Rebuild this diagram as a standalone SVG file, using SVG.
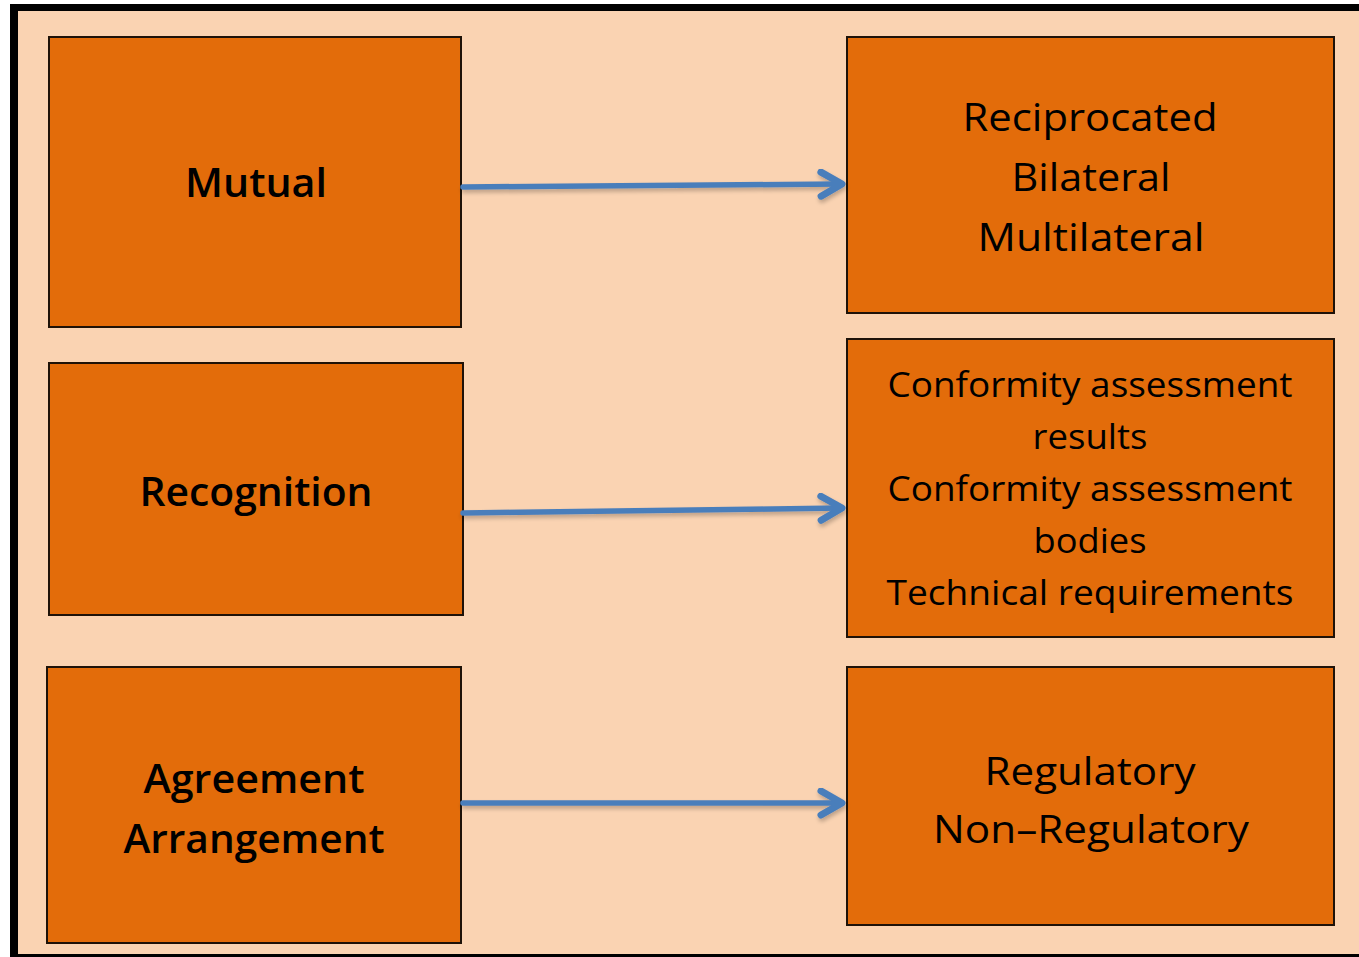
<svg xmlns="http://www.w3.org/2000/svg" width="1359" height="957" viewBox="0 0 1359 957">
  <style>
    .box { fill: #E36C0A; stroke: #1e1208; stroke-width: 2; }
    .lbl { font-family: "Open Sans", "Noto Sans", "DejaVu Sans", sans-serif; fill: #000; text-anchor: middle; }
    .big { font-size: 40px; font-weight: 600; }
    .mid { font-size: 39px; }
    .sm { font-size: 34px; }
    .conn { fill: none; stroke: #4A7EBB; stroke-width: 5.5; stroke-linecap: round; }
  </style>
  <defs>
    <marker id="arrow" markerUnits="userSpaceOnUse" markerWidth="40" markerHeight="40" refX="25" refY="15" orient="auto">
      <path d="M4,3 L25,15 L4,27" fill="none" stroke="#4A7EBB" stroke-width="7" stroke-linecap="round" stroke-linejoin="round"/>
    </marker>
    <filter id="shadow" x="-5%" y="-50%" width="110%" height="300%">
      <feGaussianBlur in="SourceAlpha" stdDeviation="2"/>
      <feOffset dx="1" dy="3" result="b"/>
      <feComponentTransfer><feFuncA type="linear" slope="0.25"/></feComponentTransfer>
      <feMerge><feMergeNode/><feMergeNode in="SourceGraphic"/></feMerge>
    </filter>
  </defs>
  <rect x="0" y="0" width="1359" height="957" fill="#ffffff"/>
  <rect x="10" y="4" width="1349" height="953" fill="#000000"/>
  <rect x="18" y="11" width="1341" height="943" fill="#FAD3B2"/>

  <g id="node-mutual">
    <rect class="box" x="49" y="37" width="412" height="290"/>
    <text class="lbl big" x="256" y="197" textLength="142" lengthAdjust="spacingAndGlyphs">Mutual</text>
  </g>
  <g id="node-recognition">
    <rect class="box" x="49" y="363" width="414" height="252"/>
    <text class="lbl big" x="256" y="506" textLength="233" lengthAdjust="spacingAndGlyphs">Recognition</text>
  </g>
  <g id="node-agreement">
    <rect class="box" x="47" y="667" width="414" height="276"/>
    <text class="lbl big" x="254" y="793" textLength="221" lengthAdjust="spacingAndGlyphs">Agreement</text>
    <text class="lbl big" x="254" y="853" textLength="261" lengthAdjust="spacingAndGlyphs">Arrangement</text>
  </g>
  <g id="node-types">
    <rect class="box" x="847" y="37" width="487" height="276"/>
    <text class="lbl mid" x="1090" y="131" textLength="255" lengthAdjust="spacingAndGlyphs">Reciprocated</text>
    <text class="lbl mid" x="1091" y="191" textLength="159" lengthAdjust="spacingAndGlyphs">Bilateral</text>
    <text class="lbl mid" x="1091" y="251" textLength="227" lengthAdjust="spacingAndGlyphs">Multilateral</text>
  </g>
  <g id="node-scope">
    <rect class="box" x="847" y="339" width="487" height="298"/>
    <text class="lbl sm" x="1090" y="397" textLength="405" lengthAdjust="spacingAndGlyphs">Conformity assessment</text>
    <text class="lbl sm" x="1090" y="449" textLength="115" lengthAdjust="spacingAndGlyphs">results</text>
    <text class="lbl sm" x="1090" y="501" textLength="405" lengthAdjust="spacingAndGlyphs">Conformity assessment</text>
    <text class="lbl sm" x="1090" y="553" textLength="113" lengthAdjust="spacingAndGlyphs">bodies</text>
    <text class="lbl sm" x="1090" y="605" textLength="407" lengthAdjust="spacingAndGlyphs">Technical requirements</text>
  </g>
  <g id="node-regulatory">
    <rect class="box" x="847" y="667" width="487" height="258"/>
    <text class="lbl mid" x="1090" y="785" textLength="211" lengthAdjust="spacingAndGlyphs">Regulatory</text>
    <text class="lbl mid" x="1091" y="843" textLength="316" lengthAdjust="spacingAndGlyphs">Non–Regulatory</text>
  </g>

  <g id="connectors" filter="url(#shadow)">
    <path class="conn" d="M463,187 L842,184" marker-end="url(#arrow)"/>
    <path class="conn" d="M463,513 L842,508" marker-end="url(#arrow)"/>
    <path class="conn" d="M463,803 L842,803" marker-end="url(#arrow)"/>
  </g>
</svg>
